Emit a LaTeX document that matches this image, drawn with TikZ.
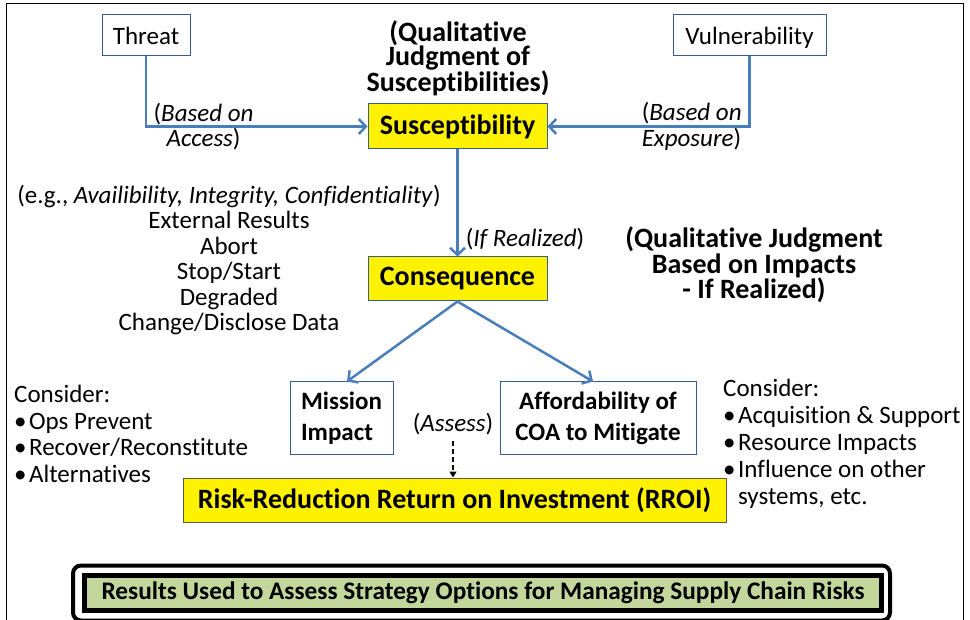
\documentclass[tikz,border=0pt]{standalone}
\usepackage{fontspec}
\setmainfont{Carlito}[Ligatures=NoCommon]
\usetikzlibrary{arrows.meta, positioning}

\definecolor{arrowblue}{RGB}{74,126,187}
\definecolor{boxblue}{RGB}{56,93,138}
\definecolor{boxgreen}{RGB}{195,214,155}
\definecolor{rroiedge}{RGB}{90,90,70}

\newcommand{\bul}{\textbullet\hspace{2.5pt}}

\begin{document}
\begin{tikzpicture}[x=1pt, y=-1pt,
	plain/.style={font=\fontsize{25}{25.4}\selectfont, inner sep=0pt},
	heading/.style={font=\fontsize{28}{25.5}\selectfont\bfseries, inner sep=0pt, align=center},
	source/.style={draw=boxblue, line width=1pt, font=\fontsize{25}{26}\selectfont, text height=21pt, text depth=3pt, minimum height=41pt},
	stage/.style={draw=boxblue, line width=1pt, fill=yellow, font=\fontsize{28}{30}\selectfont\bfseries, minimum width=179pt, minimum height=45pt},
	outcome/.style={draw=boxblue, line width=1pt, font=\fontsize{25}{31}\selectfont\bfseries, minimum height=72pt},
	flow/.style={draw=arrowblue, line width=2.5pt, -{Straight Barb[length=7pt, width=15pt]}},
	]
	
	\useasboundingbox (0,0) rectangle (970,620);
	\draw[line width=1pt] (6,620) -- (6,4) -- (963,4) -- (963,620);
	
	\node[source, minimum width=88pt] (threat) at (146,35.5) {Threat};
	\node[source, minimum width=153pt] (vuln) at (749.5,35.5) {Vulnerability};
	\node[heading, font=\fontsize{28}{24}\selectfont\bfseries] (susctitle) at (458,58.5) {(Qualitative\\Judgment of\\Susceptibilities)};
	
	\node[stage] (susc) at (457.5,126.5) {Susceptibility};
	\node[stage, minimum height=44pt] (conseq) at (457.5,279) {Consequence};
	\node[heading] (impacttitle) at (754,265) {(Qualitative Judgment\\Based on Impacts\\- If Realized)};
	
	\node[plain, align=center] (results) at (229,260) {(e.g., \textit{Availibility, Integrity, Confidentiality})\\External Results\\Abort\\Stop/Start\\Degraded\\Change/Disclose Data};
	
	\node[outcome, minimum width=103pt, align=left] (mission) at (341.5,418) {Mission\\Impact};
	\node[outcome, minimum width=196pt, align=center] (afford) at (598,418) {Affordability of\\COA to Mitigate};
	\node[plain] (assess) at (453,424) {(\textit{Assess})};
	\node[stage, draw=rroiedge, minimum width=543pt, minimum height=44pt] (rroi) at (454.5,500) {Risk-Reduction Return on Investment (RROI)};
	
	\node[plain, align=left, anchor=north west, font=\fontsize{25}{26.7}\selectfont] (leftlist) at (14,385) {Consider:\\\bul Ops Prevent\\\bul Recover/Reconstitute\\\bul Alternatives};
	\node[plain, align=left, anchor=north west, font=\fontsize{25}{27}\selectfont] (rightlist) at (723,379) {Consider:\\\bul Acquisition \& Support\\\bul Resource Impacts\\\bul Influence on other\\\phantom{\bul}systems, etc.};
	
	\node[draw=black, line width=5pt, fill=boxgreen, minimum width=797pt, minimum height=35pt, font=\fontsize{25.3}{26}\selectfont\bfseries] (summary) at (483,593) {Results Used to Assess Strategy Options for Managing Supply Chain Risks};
	\draw[line width=4pt, rounded corners=8pt] ([shift={(-9,-7.5)}]summary.north west) rectangle ([shift={(6,7.5)}]summary.south east);
	
	\draw[flow] (threat.south) |- node[plain, pos=0.63, align=center, text=black] {(\textit{Based on}\\\textit{Access})} (susc.west);
	\draw[flow] (vuln.south) |- node[plain, pos=0.643, align=left, text=black] {(\textit{Based on}\\\textit{Exposure})} (susc.east);
	\draw[flow] (susc) -- node[plain, pos=0.84, right=7pt, text=black] {(\textit{If Realized})} (conseq);
	\draw[flow] (conseq.south) -- ([xshift=5.5pt]mission.north);
	\draw[flow] (conseq.south) -- ([xshift=-5pt]afford.north);
	\draw[line width=1.8pt, dash pattern=on 5pt off 3pt, -{Triangle[length=6pt, width=7pt]}] ([yshift=-6pt]assess.south) -- (assess.south |- rroi.north);
	
\end{tikzpicture}
\end{document}
